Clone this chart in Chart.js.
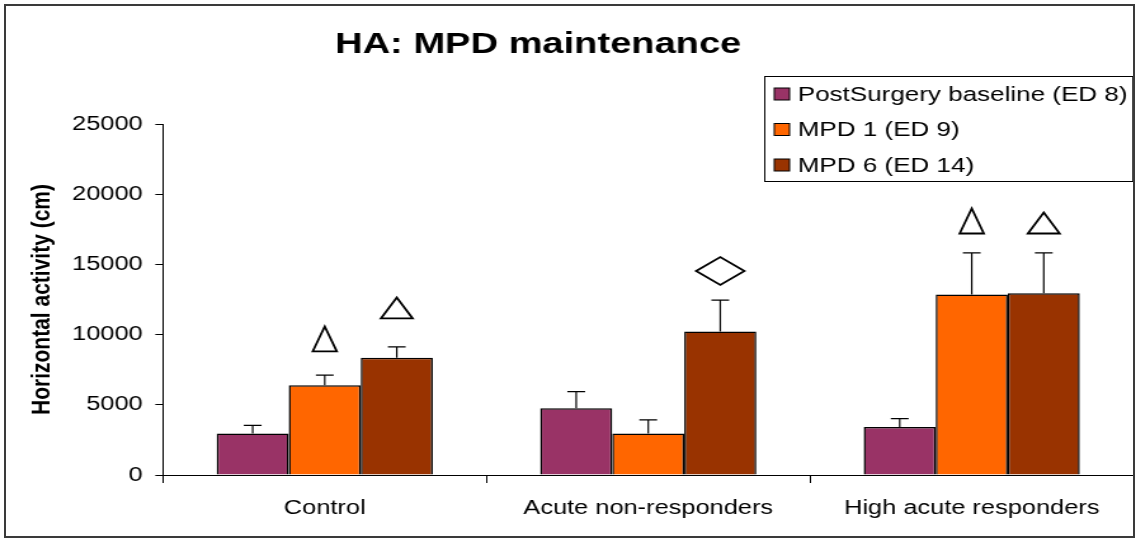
<!DOCTYPE html>
<html>
<head>
<meta charset="utf-8">
<script src="https://cdn.jsdelivr.net/npm/chart.js@4/dist/chart.umd.min.js"></script>
<style>
  html, body { margin: 0; padding: 0; background: #fff; }
  body { width: 1136px; height: 538px; position: relative; overflow: hidden; }
  /* the source picture is stretched horizontally, so draw narrow and stretch */
  #wrap { position: absolute; left: 0; top: 0; width: 895px; height: 538px;
          transform: scaleX(1.2693); transform-origin: 0 0; }
  #frame { position: absolute; left: 4px; top: 4px; width: 1127px; height: 530px;
           border: 2px solid #3a3a3a; pointer-events: none; }
</style>
</head>
<body>
<div id="wrap"><canvas id="chart" width="895" height="538"></canvas></div>
<div id="frame"></div>
<script>
    'use strict';

    /* ---- Data ---- */
    var chartTitle = 'HA: MPD maintenance';
    var categories = ['Control', 'Acute non-responders', 'High acute responders'];
    var seriesNames = ['PostSurgery baseline (ED 8)', 'MPD 1 (ED 9)', 'MPD 6 (ED 14)'];
    var baseline = [2950, 4750, 3420];
    var mpd1 = [6400, 2950, 12850];
    var mpd6 = [8350, 10220, 12950];
    // upper error bar (SEM)
    var baselineSem = [580, 1190, 600];
    var mpd1Sem = [710, 970, 2970];
    var mpd6Sem = [780, 2240, 2870];
    // significance symbols and the value they sit on
    var baselineMark = [null, null, null];
    var mpd1Mark = ['triangle', null, 'triangle'];
    var mpd6Mark = ['triangleWide', 'diamond', 'triangleWide'];
    var baselineMarkAt = [null, null, null];
    var mpd1MarkAt = [8800, null, 17200];
    var mpd6MarkAt = [11150, 14530, 17200];
    var yMax = 25000;
    var yStep = 5000;

    var colors = ['#993366', '#FF6600', '#993300'];
    var FONT = "'Liberation Sans', Arial, sans-serif";

    /* ---- Error bars + symbols ---- */
    var markSizes = {
        triangle: { w: 19, h: 25 },
        triangleWide: { w: 25, h: 21 },
        diamond: { w: 38, h: 28 }
    };

    var errorBarPlugin = {
        id: 'errorBars',
        afterDatasetsDraw: function(chart) {
            var ctx = chart.ctx;
            var y = chart.scales.y;
            ctx.save();
            chart.data.datasets.forEach(function(ds, i) {
                var meta = chart.getDatasetMeta(i);
                meta.data.forEach(function(bar, j) {
                    var top = y.getPixelForValue(ds.data[j] + ds.sem[j]);
                    ctx.strokeStyle = '#000';
                    ctx.lineWidth = 1.2;
                    ctx.beginPath();
                    ctx.moveTo(bar.x, bar.y);
                    ctx.lineTo(bar.x, top);
                    ctx.moveTo(bar.x - 7, top);
                    ctx.lineTo(bar.x + 7, top);
                    ctx.stroke();

                    var shape = ds.mark[j];
                    if (!shape) return;
                    var s = markSizes[shape];
                    var my = y.getPixelForValue(ds.markAt[j]);
                    ctx.lineWidth = 1.8;
                    ctx.beginPath();
                    if (shape === 'diamond') {
                        ctx.moveTo(bar.x - s.w / 2, my);
                        ctx.lineTo(bar.x, my - s.h / 2);
                        ctx.lineTo(bar.x + s.w / 2, my);
                        ctx.lineTo(bar.x, my + s.h / 2);
                    } else {
                        ctx.moveTo(bar.x - s.w / 2, my);
                        ctx.lineTo(bar.x, my - s.h);
                        ctx.lineTo(bar.x + s.w / 2, my);
                    }
                    ctx.closePath();
                    ctx.stroke();
                });
            });
            ctx.restore();
        }
    };

    /* ---- Title + boxed legend ---- */
    var boxLegendPlugin = {
        id: 'boxLegend',
        afterDraw: function(chart) {
            var ctx = chart.ctx;
            ctx.save();
            ctx.fillStyle = '#000';
            ctx.font = 'bold 30px ' + FONT;
            ctx.textAlign = 'center';
            ctx.textBaseline = 'middle';
            ctx.fillText(chartTitle, 424, 45);

            var x0 = 602, y0 = 76, w = 290, h = 105;
            ctx.textAlign = 'left';
            ctx.fillStyle = '#fff';
            ctx.fillRect(x0, y0, w, h);
            ctx.strokeStyle = '#000';
            ctx.lineWidth = 1;
            ctx.strokeRect(x0 + 0.5, y0 + 0.5, w, h);
            ctx.font = '20.5px ' + FONT;
            chart.data.datasets.forEach(function(ds, i) {
                var cy = 94 + i * 35.5;
                ctx.fillStyle = ds.backgroundColor;
                ctx.fillRect(610, cy - 6, 12, 12);
                ctx.strokeStyle = '#000';
                ctx.strokeRect(610, cy - 6, 12, 12);
                ctx.fillStyle = '#000';
                ctx.fillText(ds.label, 628.5, cy + 1);
            });
            ctx.restore();
        }
    };

    var datasets = [
        { data: baseline, sem: baselineSem, mark: baselineMark, markAt: baselineMarkAt },
        { data: mpd1, sem: mpd1Sem, mark: mpd1Mark, markAt: mpd1MarkAt },
        { data: mpd6, sem: mpd6Sem, mark: mpd6Mark, markAt: mpd6MarkAt }
    ].map(function(d, i) {
        return {
            label: seriesNames[i],
            data: d.data, sem: d.sem, mark: d.mark, markAt: d.markAt,
            backgroundColor: colors[i],
            borderColor: '#000', borderWidth: 1.5, borderSkipped: 'bottom',
            categoryPercentage: 0.668, barPercentage: 1.0
        };
    });

    new Chart(document.getElementById('chart').getContext('2d'), {
        type: 'bar',
        data: { labels: categories, datasets: datasets },
        options: {
            responsive: false, animation: false, devicePixelRatio: 1,
            layout: { padding: { left: 17, right: 2, top: 124, bottom: 0 } },
            plugins: {
                legend: { display: false },
                tooltip: { enabled: false },
                title: { display: false }
            },
            scales: {
                x: {
                    offset: true,
                    grid: { drawOnChartArea: false, drawTicks: true, tickLength: 8, offset: true, color: '#000', lineWidth: 1 },
                    border: { color: '#000', width: 1 },
                    ticks: { color: '#000', font: { family: FONT, size: 20 }, padding: 13, maxRotation: 0 },
                    afterFit: function(s) { s.height = 63; }
                },
                y: {
                    min: 0, max: yMax,
                    grid: { drawOnChartArea: false, drawTicks: true, tickLength: 6, color: '#000', lineWidth: 1 },
                    border: { color: '#000', width: 1 },
                    ticks: {
                        stepSize: yStep, color: '#000', font: { family: FONT, size: 20 }, padding: 10,
                        callback: function(v) { return String(v); }
                    },
                    title: {
                        display: true, text: 'Horizontal activity (cm)', color: '#000',
                        font: { family: FONT, size: 21, weight: 'bold' }, padding: { top: 4, bottom: 4 }
                    },
                    afterFit: function(s) { s.width = 111.4; }
                }
            }
        },
        plugins: [errorBarPlugin, boxLegendPlugin]
    });
</script>
</body>
</html>
